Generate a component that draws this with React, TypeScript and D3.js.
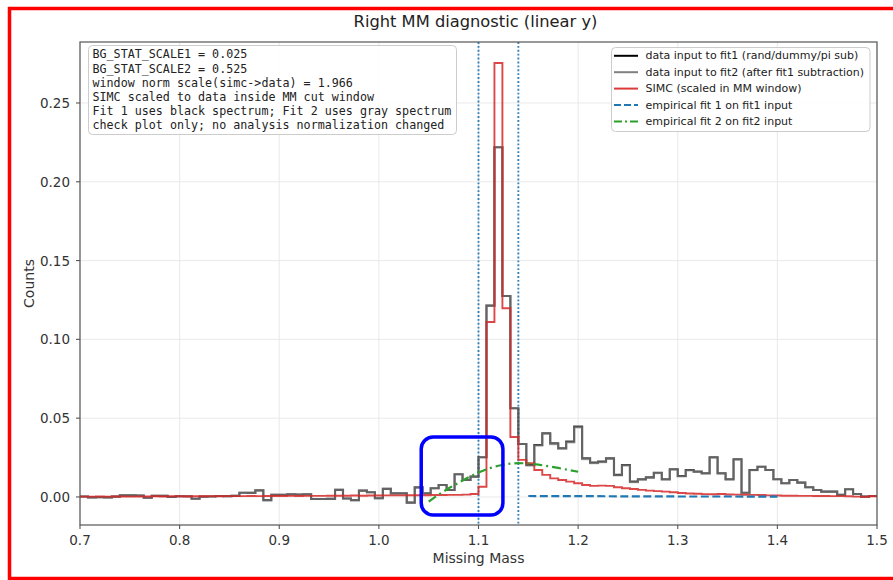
import React from 'react';
import * as d3 from 'd3';

const X_MIN = 0.7;
const X_MAX = 1.5;
const BIN_WIDTH = 0.008;

// data input to fit1 (rand/dummy/pi sub), 100 bins of 0.008 from 0.7 to 1.5
const fit1Input: number[] = [
  0.0003, -0.0003, -0.0002, -0.0003, 0.0002, 0.001, 0.001, 0.0009, -0.0005, 0.0008,
  0.0007, 0.0, 0.0004, 0.0004, -0.0011, 0.0002, 0.0003, 0.0006, 0.0005, 0.0007,
  0.0027, 0.0026, 0.0042, -0.002, 0.0013, 0.0013, 0.0017, 0.0016, 0.0017, -0.0013,
  -0.0013, -0.0012, 0.0045, -0.001, -0.002, 0.004, 0.003, -0.0008, 0.0051, 0.0023,
  0.0023, -0.0036, 0.0061, 0.0023, 0.0055, 0.0076, 0.0044, 0.0144, 0.0108, 0.0129,
  0.0252, 0.1214, 0.2219, 0.1275, 0.0563, 0.0336, 0.0203, 0.033, 0.0404, 0.034,
  0.0309, 0.0351, 0.0446, 0.0245, 0.0218, 0.0224, 0.0245, 0.014, 0.0203, 0.0097,
  0.0112, 0.0124, 0.0154, 0.0112, 0.0176, 0.0133, 0.0171, 0.0161, 0.015, 0.0252,
  0.015, 0.0112, 0.0239, 0.0027, 0.0171, 0.0192, 0.0171, 0.0112, 0.0087, 0.0108,
  0.0091, 0.0062, 0.0044, 0.0034, 0.0034, 0.0013, 0.0049, 0.0019, 0.0002, 0.0006,
];

// data input to fit2 (after fit1 subtraction)
const fit2Input: number[] = [
  0.0003, -0.0003, -0.0002, -0.0003, 0.0002, 0.001, 0.001, 0.0009, -0.0005, 0.0008,
  0.0007, 0.0, 0.0004, 0.0004, -0.0011, 0.0002, 0.0003, 0.0006, 0.0005, 0.0007,
  0.0027, 0.0026, 0.0042, -0.002, 0.0013, 0.0013, 0.0017, 0.0016, 0.0017, -0.0013,
  -0.0013, -0.0012, 0.0045, -0.001, -0.002, 0.004, 0.003, -0.0008, 0.0051, 0.0023,
  0.0023, -0.0036, 0.0061, 0.0023, 0.0055, 0.0076, 0.0044, 0.0144, 0.0108, 0.0129,
  0.0252, 0.1214, 0.2219, 0.1275, 0.0563, 0.0336, 0.0198, 0.0325, 0.0399, 0.0335,
  0.0304, 0.0346, 0.0441, 0.024, 0.0214, 0.022, 0.0241, 0.0136, 0.0199, 0.0093,
  0.0108, 0.0121, 0.0151, 0.0109, 0.0173, 0.013, 0.0168, 0.0158, 0.0147, 0.0249,
  0.0147, 0.0109, 0.0236, 0.0024, 0.0169, 0.0192, 0.0171, 0.0112, 0.0087, 0.0108,
  0.0091, 0.0062, 0.0044, 0.0034, 0.0034, 0.0013, 0.0049, 0.0019, 0.0002, 0.0006,
];

// SIMC (scaled in MM window)
const simc: number[] = [
  0.0002, 0.0002, 0.0003, 0.0002, 0.0003, 0.0003, 0.0002, 0.0003, 0.0003, 0.0004,
  0.0003, 0.0004, 0.0004, 0.0003, 0.0004, 0.0004, 0.0005, 0.0004, 0.0005, 0.0005,
  0.0005, 0.0006, 0.0005, 0.0006, 0.0006, 0.0006, 0.0007, 0.0006, 0.0007, 0.0007,
  0.0007, 0.0008, 0.0008, 0.0008, 0.0009, 0.0008, 0.0009, 0.0009, 0.001, 0.001,
  0.001, 0.0011, 0.0011, 0.0011, 0.0012, 0.0012, 0.0013, 0.0013, 0.0015, 0.0019,
  0.0065, 0.111, 0.2754, 0.1197, 0.038, 0.0235, 0.0214, 0.0171, 0.014, 0.0118,
  0.0108, 0.0097, 0.0087, 0.0076, 0.007, 0.0072, 0.007, 0.0062, 0.0055, 0.005,
  0.0045, 0.004, 0.0037, 0.0034, 0.003, 0.0025, 0.0022, 0.002, 0.0018, 0.0017,
  0.0019, 0.0016, 0.0015, 0.0014, 0.0013, 0.0012, 0.001, 0.0009, 0.0008, 0.0008,
  0.0007, 0.0007, 0.0006, 0.0006, 0.0005, 0.0005, 0.0004, 0.0002, 0.0001, 0.0004,
];

// empirical fit 1 on fit1 input
const fit1CurveX = [1.15, 1.2, 1.25, 1.3, 1.35, 1.4];
const fit1CurveY = [0.0006, 0.0005, 0.0004, 0.0003, 0.0003, 0.0002];

// empirical fit 2 on fit2 input
const fit2CurveX = [1.05, 1.06, 1.07, 1.08, 1.09, 1.1, 1.11, 1.12, 1.13, 1.14, 1.15, 1.16, 1.17, 1.18, 1.19, 1.2];
const fit2CurveY = [-0.003, 0.0015, 0.0055, 0.009, 0.0125, 0.0155, 0.018, 0.0198, 0.021, 0.0215, 0.0213, 0.0205, 0.0195, 0.0184, 0.0172, 0.016];

const mmCutLines = [1.1, 1.14];
const xTicks = [0.7, 0.8, 0.9, 1.0, 1.1, 1.2, 1.3, 1.4, 1.5];
const yTicks = [0, 0.05, 0.1, 0.15, 0.2, 0.25];

const infoLines = [
  'BG_STAT_SCALE1 = 0.025',
  'BG_STAT_SCALE2 = 0.525',
  'window norm scale(simc->data) = 1.966',
  'SIMC scaled to data inside MM cut window',
  'Fit 1 uses black spectrum; Fit 2 uses gray spectrum',
  'check plot only; no analysis normalization changed',
];

const legendLabels = [
  'data input to fit1 (rand/dummy/pi sub)',
  'data input to fit2 (after fit1 subtraction)',
  'SIMC (scaled in MM window)',
  'empirical fit 1 on fit1 input',
  'empirical fit 2 on fit2 input',
];

// highlight box (data coords)
const highlightX = [1.0425, 1.1245];
const highlightY = [-0.0115, 0.038];

export default function App() {
  const W = 893;
  const H = 580;
  const L = 80, R = 877, T = 42, B = 525;
  const x = d3.scaleLinear().domain([X_MIN, X_MAX]).range([L, R]);
  const y = d3.scaleLinear().domain([-0.0178, 0.2887]).range([B, T]);

  const stepPath = (vals: number[]) => {
    const pts: [number, number][] = vals.map((v, i) => [X_MIN + i * BIN_WIDTH, v]);
    pts.push([X_MAX, vals[vals.length - 1]]);
    return d3
      .line<[number, number]>()
      .x((d) => x(d[0]))
      .y((d) => y(d[1]))
      .curve(d3.curveStepAfter)(pts) as string;
  };
  const linePath = (xs: number[], ys: number[]) =>
    d3
      .line<number>()
      .x((_, i) => x(xs[i]))
      .y((d) => y(d))(ys) as string;

  const font = 'DejaVu Sans, sans-serif';
  const mono = 'DejaVu Sans Mono, monospace';

  const legendStyles = [
    { stroke: '#000000', dash: undefined as string | undefined, opacity: 1 },
    { stroke: '#808080', dash: undefined, opacity: 1 },
    { stroke: '#d62728', dash: undefined, opacity: 0.9 },
    { stroke: '#1f77b4', dash: '7,3', opacity: 1 },
    { stroke: '#2ca02c', dash: '8,3,2,3', opacity: 1 },
  ];

  return (
    <svg
      width={W}
      height={H}
      style={{ position: 'absolute', left: 0, top: 0, background: '#fff' }}
      xmlns="http://www.w3.org/2000/svg"
    >
      <defs>
        <clipPath id="plotclip">
          <rect x={L} y={T} width={R - L} height={B - T} />
        </clipPath>
      </defs>
      <rect x={0} y={0} width={W} height={H} fill="#fff" />

      {/* grid */}
      <g stroke="#e6e6e6" strokeWidth={0.9}>
        {xTicks.map((t) => (
          <line key={'gx' + t} x1={x(t)} x2={x(t)} y1={T} y2={B} />
        ))}
        {yTicks.map((t) => (
          <line key={'gy' + t} x1={L} x2={R} y1={y(t)} y2={y(t)} />
        ))}
      </g>

      <g clipPath="url(#plotclip)">
        {/* MM cut lines */}
        {mmCutLines.map((c) => (
          <line
            key={'cut' + c}
            x1={x(c)}
            x2={x(c)}
            y1={T}
            y2={B}
            stroke="#1f77b4"
            strokeWidth={1.9}
            strokeDasharray="1.9,2"
            opacity={0.9}
          />
        ))}
        <path d={stepPath(fit1Input)} fill="none" stroke="#000" strokeWidth={2.1} opacity={0.75} />
        <path d={stepPath(fit2Input)} fill="none" stroke="#808080" strokeWidth={2.1} opacity={0.55} />
        <path d={stepPath(simc)} fill="none" stroke="#d62728" strokeWidth={1.9} opacity={0.85} />
        <path
          d={linePath(fit1CurveX, fit1CurveY)}
          fill="none"
          stroke="#1f77b4"
          strokeWidth={2.2}
          strokeDasharray="8,3.5"
        />
        <path
          d={linePath(fit2CurveX, fit2CurveY)}
          fill="none"
          stroke="#2ca02c"
          strokeWidth={2.2}
          strokeDasharray="9,4,2,4"
        />
      </g>

      {/* spines */}
      <rect x={L} y={T} width={R - L} height={B - T} fill="none" stroke="#555" strokeWidth={1.2} />

      {/* x ticks */}
      {xTicks.map((t) => (
        <g key={'xt' + t}>
          <line x1={x(t)} x2={x(t)} y1={B} y2={B + 4} stroke="#555" strokeWidth={1.1} />
          <text
            x={x(t)}
            y={545}
            textAnchor="middle"
            fontFamily={font}
            fontSize={13.5}
            fill="#333"
          >
            {t.toFixed(1)}
          </text>
        </g>
      ))}
      {/* y ticks */}
      {yTicks.map((t) => (
        <g key={'yt' + t}>
          <line x1={L - 4} x2={L} y1={y(t)} y2={y(t)} stroke="#555" strokeWidth={1.1} />
          <text
            x={70}
            y={y(t)}
            dominantBaseline="central"
            textAnchor="end"
            fontFamily={font}
            fontSize={13.5}
            fill="#333"
          >
            {t.toFixed(2)}
          </text>
        </g>
      ))}

      <text x={(L + R) / 2} y={563} textAnchor="middle" fontFamily={font} fontSize={14} fill="#333">
        Missing Mass
      </text>
      <text
        transform={`translate(34,${(T + B) / 2}) rotate(-90)`}
        textAnchor="middle"
        fontFamily={font}
        fontSize={14}
        fill="#333"
      >
        Counts
      </text>
      <text x={(L + R) / 2 - 3} y={27} textAnchor="middle" fontFamily={font} fontSize={16.3} fill="#222">
        Right MM diagnostic (linear y)
      </text>

      {/* info box */}
      <rect x={88.5} y={45.5} width={368} height={89} rx={4} fill="#fff" fillOpacity={0.85} stroke="#cccccc" strokeWidth={1} />
      {infoLines.map((s, i) => (
        <text
          key={'info' + i}
          x={92.5}
          y={54.3 + i * 14.2}
          dominantBaseline="central"
          fontFamily={mono}
          fontSize={11.7}
          fill="#222"
          style={{ whiteSpace: 'pre' }}
        >
          {s}
        </text>
      ))}

      {/* legend */}
      <rect x={611.5} y={47.5} width={258.5} height={84} rx={4} fill="#fff" fillOpacity={0.85} stroke="#cccccc" strokeWidth={1} />
      {legendLabels.map((s, i) => {
        const cy = 55.8 + i * 16.4;
        const st = legendStyles[i];
        return (
          <g key={'leg' + i}>
            <line
              x1={614}
              x2={638}
              y1={cy}
              y2={cy}
              stroke={st.stroke}
              strokeWidth={2}
              strokeDasharray={st.dash}
              opacity={st.opacity}
            />
            <text x={645.5} y={cy} dominantBaseline="central" fontFamily={font} fontSize={11} fill="#222">
              {s}
            </text>
          </g>
        );
      })}

      {/* highlight annotation */}
      <rect
        x={x(highlightX[0])}
        y={y(highlightY[1])}
        width={x(highlightX[1]) - x(highlightX[0])}
        height={y(highlightY[0]) - y(highlightY[1])}
        rx={12}
        fill="none"
        stroke="#0000ff"
        strokeWidth={3.5}
      />

      {/* outer red frame */}
      <rect x={9.5} y={8.5} width={900} height={570} fill="none" stroke="#ff0000" strokeWidth={3.5} />
    </svg>
  );
}
